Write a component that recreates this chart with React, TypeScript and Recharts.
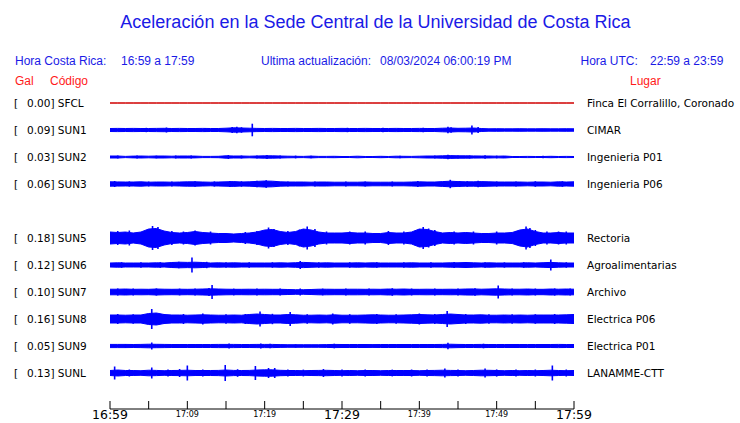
import { Area, ComposedChart, ErrorBar, Scatter, XAxis, YAxis } from 'recharts'

const WAVE_BLUE = '#0000ff'
const TEXT_BLUE = '#1a1ae6'
const TEXT_RED = '#ff1a1a'
const LABEL_FONT = '"DejaVu Sans", sans-serif'
const HEAD_FONT = '"Liberation Sans", Arial, sans-serif'

// stations, top to bottom (slot 4 is an empty row)
const codes = ['SFCL', 'SUN1', 'SUN2', 'SUN3', 'SUN5', 'SUN6', 'SUN7', 'SUN8', 'SUN9', 'SUNL']
const gal = [0.0, 0.09, 0.03, 0.06, 0.18, 0.12, 0.1, 0.16, 0.05, 0.13]
const places = [
  'Finca El Corralillo, Coronado',
  'CIMAR',
  'Ingenieria P01',
  'Ingenieria P06',
  'Rectoria',
  'Agroalimentarias',
  'Archivo',
  'Electrica P06',
  'Electrica P01',
  'LANAMME-CTT',
]
const slots = [0, 1, 2, 3, 5, 6, 7, 8, 9, 10]

// minutes after 16:59
const minutes = Array.from({ length: 61 }, (_, i) => i)
const timeTicks = [0, 5, 10, 15, 20, 25, 30, 35, 40, 45, 50, 55, 60]
const timeLabels = ['16:59', '', '17:09', '', '17:19', '', '17:29', '', '17:39', '', '17:49', '', '17:59']
const bigLabels = ['16:59', '17:29', '17:59']

// half envelope of each trace, one value per minute (27 = one trace spacing)
const sfcl = [
  0, 0, 0, 0, 0, 0, 0, 0, 0, 0, 0, 0, 0, 0, 0, 0, 0, 0, 0, 0, 0, 0, 0, 0, 0, 0, 0, 0, 0, 0, 0,
  0, 0, 0, 0, 0, 0, 0, 0, 0, 0, 0, 0, 0, 0, 0, 0, 0, 0, 0, 0, 0, 0, 0, 0, 0, 0, 0, 0, 0, 0,
]
const sun1 = [
  1.5, 1.6, 1.5, 1.6, 1.5, 1.5, 1.6, 1.7, 1.5, 1.6, 1.5, 1.5, 1.6, 1.5, 1.5, 1.8, 2.2, 2, 1.8, 1.6,
  1.5, 1.6, 1.5, 1.5, 1.6, 1.5, 1.5, 1.6, 1.5, 1.5, 1.6, 1.5, 1.5, 1.6, 1.5, 1.5, 1.5, 1.6, 1.5, 1.5,
  1.6, 1.5, 1.5, 1.8, 2, 1.7, 1.8, 2, 1.5, 1.2, 1.3, 1.2, 1.2, 1.3, 1.2, 1.2, 1.3, 1.2, 1.2, 1.3, 1.2,
]
const sun2 = [
  1, 1, 0.6, 0.9, 1, 0.8, 1, 1, 0.8, 1, 1, 0.9, 0.6, 0.6, 0.7, 1.2, 1, 1, 0.8, 1,
  1.2, 1.2, 1, 0.8, 0.7, 0.6, 0.9, 0.6, 0.6, 0.7, 0.5, 0.5, 0.8, 0.5, 0.5, 0.7, 0.5, 0.8, 0.7, 0.6,
  0.8, 1, 1, 1.2, 1.4, 1.2, 1.2, 1.1, 1, 1, 0.8, 1, 0.5, 0.5, 0.6, 0.5, 0.5, 0.7, 0.5, 0.6, 0.5,
]
const sun3 = [
  2.2, 2.1, 2, 2, 2.2, 1.8, 2, 2, 1.8, 2, 2.2, 2.2, 2, 1.8, 2, 2.2, 2.4, 2, 2.2, 2.6,
  3, 2.8, 2.2, 2, 2, 2, 1.8, 2, 2, 1.8, 1.8, 1.8, 1.8, 2, 1.8, 1.8, 1.8, 1.8, 1.8, 2,
  2.2, 2, 2, 2.4, 2.8, 2.4, 2.2, 2.2, 2.4, 2.2, 2, 2, 2, 2, 1.8, 2, 2, 1.8, 2.2, 2, 2.2,
]
const sun5 = [
  6, 5.5, 6, 5, 6, 9, 9.5, 7, 5.5, 5, 5.5, 6.5, 5.5, 5, 4.5, 4.5, 4, 4.5, 5, 6,
  8, 8.5, 6.5, 5.5, 6.5, 9, 8, 6, 5, 5, 5, 5.5, 5, 5, 4.5, 4.5, 5.5, 5, 5, 6,
  9, 8.5, 6.5, 5, 5.5, 5, 5.5, 5, 4.5, 4.5, 5, 5, 5.5, 8, 9, 6.5, 5, 5, 5.5, 5, 5,
]
const sun6 = [
  2, 2.2, 2, 2, 2, 2, 2.2, 2, 2.5, 2.8, 2.6, 2.8, 2.5, 2, 2.2, 2, 2.2, 2, 2, 2,
  2, 2, 2.2, 2, 2.3, 2.6, 2.3, 2, 2.2, 2, 2, 2, 2.2, 2, 2.2, 2, 2, 2, 2, 2.2,
  2, 2, 2, 2, 2.2, 2.2, 2.5, 2.2, 2, 2.2, 2, 2, 2, 2, 2.2, 2, 2.3, 2.6, 2.2, 2, 2,
]
const sun7 = [
  2.8, 2.8, 3, 2.7, 2.8, 2.7, 3, 2.8, 2.7, 2.8, 2.7, 2.8, 3, 3.2, 3, 2.8, 2.7, 2.7, 2.8, 2.7,
  2.8, 2.7, 2.7, 2.5, 2.3, 2.3, 2.5, 2.8, 2.8, 2.7, 2.7, 2.8, 2.8, 2.7, 2.8, 2.7, 3, 2.8, 3, 2.7,
  2.7, 2.8, 2.7, 2.7, 2.8, 2.7, 3, 3.1, 2.8, 3, 3.2, 3, 2.8, 2.8, 3, 2.7, 2.7, 3, 2.8, 3, 2.8,
]
const sun8 = [
  4, 4, 3.8, 4, 4, 5.5, 6, 4.5, 4, 4, 3.8, 4, 4.2, 4, 3.8, 3.8, 4, 3.8, 4.5, 5,
  4.5, 4, 4, 4.5, 4.2, 3.8, 3.8, 4, 3.8, 4.2, 3.8, 3.8, 3.8, 4, 4.2, 4, 3.8, 3.8, 4, 4.2,
  4.5, 4.2, 4, 4.5, 5, 4.5, 4, 4, 4.2, 3.8, 3.8, 4, 3.8, 4, 3.8, 4, 4, 4, 4, 4.2, 4.5,
]
const sun9 = [
  1.6, 1.6, 1.6, 1.5, 1.6, 1.8, 1.7, 1.6, 1.5, 1.5, 1.5, 1.5, 1.5, 1.5, 1.6, 1.6, 1.6, 1.5, 1.5, 1.6,
  1.6, 1.6, 1.4, 1.3, 1.3, 1.3, 1.3, 1.3, 1.4, 1.6, 1.5, 1.5, 1.5, 1.5, 1.4, 1.5, 1.5, 1.5, 1.5, 1.5,
  1.5, 1.5, 1.5, 1.6, 1.8, 1.6, 1.5, 1.5, 1.6, 1.5, 1.5, 1.5, 1.5, 1.5, 1.5, 1.5, 1.5, 1.5, 1.6, 1.5, 1.5,
]
const sunl = [
  2.5, 3, 2.5, 2.5, 2.3, 2.8, 2.6, 2.3, 2.5, 2.6, 2.8, 2.5, 2.5, 2.5, 2.6, 3, 2.6, 2.5, 2.6, 3,
  3.2, 3.2, 2.7, 2.5, 2.5, 2.3, 2.5, 2.6, 2.7, 2.5, 2.3, 2.5, 2.3, 2.5, 2.5, 2.3, 2.5, 2.5, 2.5, 2.5,
  2.3, 2.5, 2.6, 2.8, 2.6, 2.5, 2.3, 2.5, 2.8, 2.7, 2.5, 2.3, 2.5, 2.3, 2.5, 2.3, 2.5, 2.8, 2.5, 2.3, 2.5,
]
const traces = [sfcl, sun1, sun2, sun3, sun5, sun6, sun7, sun8, sun9, sunl]

// spikes sticking out of each trace [minute, half amplitude]
const sfclSpikes: number[][] = []
const sun1Spikes = [
  [4.7, 2.2], [7.3, 2.5], [12.3, 2], [15.8, 3], [16.4, 3.2], [17, 2.8], [18.4, 6.3], [30.7, 2.2],
  [35.3, 2.2], [37.3, 2], [40.5, 2.2], [43.7, 3.3], [44.1, 2.8], [46.8, 4.5], [47.6, 3],
]
const sun2Spikes = [
  [1, 1.5], [3.5, 1.5], [6, 1.4], [8.5, 1.5], [10.5, 1.4], [15.3, 2], [17, 1.5], [19, 1.6], [20.3, 2],
  [22, 1.5], [24, 1.4], [26, 1.3], [37.5, 1.2], [42, 1.5], [43.7, 2.3], [45, 1.6], [46.5, 1.5],
  [48.5, 1.8], [50, 1.4], [56, 1.2],
]
const sun3Spikes = [
  [0.6, 3], [2.5, 2.6], [5, 2.5], [8, 2.6], [11, 2.8], [13.5, 2.6], [15.5, 3], [17, 2.8], [19, 3.2],
  [20.2, 3.8], [21.5, 3], [23, 2.6], [26.5, 2.5], [30.5, 2.5], [33, 2.5], [36.5, 2.5], [39.8, 3],
  [44, 4.2], [45.2, 3], [46.2, 2.8], [47.6, 3.2], [50, 2.6], [52.5, 2.6], [55, 2.8], [58.5, 2.8],
]
const sun5Spikes = [
  [1, 7], [2.5, 7.5], [5.5, 12], [6.2, 11], [8, 7], [9.5, 6.5], [11, 7.5], [13, 6.5], [17.5, 6],
  [19, 7], [20.5, 10.5], [21.2, 9], [23, 7], [24.5, 8.5], [25.5, 11.5], [26.5, 9], [28, 6.5],
  [31, 6.5], [33, 6.5], [36, 7], [38, 6.5], [39.5, 7.5], [40.5, 11], [41.2, 9.5], [42, 8],
  [44.5, 6.5], [47, 6.5], [50, 6.5], [52.5, 7], [53.8, 11.5], [54.3, 10], [55, 8], [56.5, 6.5],
  [58, 6.5], [59, 6.5],
]
const sun6Spikes = [
  [1.5, 2.8], [4, 2.7], [6.5, 2.8], [8.9, 3.2], [10.6, 7.5], [12.5, 3.2], [15, 2.8], [18, 2.7],
  [21, 2.8], [24.6, 4], [27, 2.7], [31, 2.8], [34.5, 2.8], [38, 2.7], [41.5, 2.8], [44.5, 3],
  [46, 3], [48.5, 2.8], [51, 2.7], [53.5, 2.8], [57, 5.5], [59, 2.8],
]
const sun7Spikes = [
  [1, 3.6], [3, 3.5], [6, 3.6], [9, 3.4], [11, 3.5], [12.8, 4], [13.2, 7], [16, 3.4], [19, 3.5],
  [22, 3.4], [24.6, 3.5], [27.5, 3.4], [30.5, 3.5], [33.5, 3.5], [36.5, 3.8], [39, 3.5], [42, 3.5],
  [45, 3.6], [47.2, 3.8], [50.2, 6.5], [52, 3.5], [55, 3.5], [57.5, 3.6], [59.5, 3.5],
]
const sun8Spikes = [
  [1, 5], [3, 4.8], [5.4, 10], [7, 5], [9.5, 5], [12, 5.5], [15, 4.8], [17.5, 5], [19.4, 7.5],
  [21, 5.2], [23.3, 7], [25.5, 4.8], [28.8, 5.5], [31, 4.8], [34.5, 5], [37, 4.8], [40, 5.5],
  [42, 5], [43.6, 8], [46, 5], [49, 4.8], [52, 4.8], [55, 4.8], [57.5, 5], [59.8, 4.5],
]
const sun9Spikes = [
  [2, 2], [5.4, 3.5], [9, 1.9], [15.4, 2.5], [19.5, 2.4], [20.7, 2.3], [24, 1.8], [29, 2.3],
  [33, 1.9], [38, 1.9], [43.7, 3.3], [48.3, 2.3], [52, 2], [56, 1.9], [58.5, 2],
]
const sunlSpikes = [
  [0.6, 6.5], [2.5, 3.5], [5.4, 5.5], [7.5, 3.4], [9, 4], [10, 7.5], [12, 3.5], [14.9, 8],
  [16.5, 3.8], [18.8, 7], [20.5, 5], [21.3, 5], [23, 3.5], [25, 3.4], [27.6, 4], [30, 3.5],
  [33, 3.5], [36.5, 3.4], [39, 3.5], [41, 3.6], [43.3, 4.5], [45, 3.5], [48.5, 4.5], [50, 3.6],
  [52.5, 3.4], [55, 3.5], [57.2, 7.5], [59, 3.5],
]
const spikes = [sfclSpikes, sun1Spikes, sun2Spikes, sun3Spikes, sun5Spikes, sun6Spikes, sun7Spikes, sun8Spikes, sun9Spikes, sunlSpikes]

const SPACING = 27

const data = minutes.map((t, i) => {
  const row: Record<string, number | number[]> = { t }
  codes.forEach((c, k) => {
    const a = traces[k][i] / SPACING
    row[c] = [slots[k] - a, slots[k] + a]
  })
  return row
})

const spikeData = spikes.map((list, k) => list.map(([t, a]) => ({ t, y: slots[k], err: a / SPACING })))

function CodeTick({ y, payload }: any) {
  const k = slots.indexOf(payload.value)
  if (k < 0) return null
  return (
    <g fontFamily={LABEL_FONT} fontSize={10.5} fill="#000">
      <text x={14} y={y + 4}>[</text>
      <text x={27} y={y + 4}>{`${gal[k].toFixed(2)}] ${codes[k]}`}</text>
    </g>
  )
}

function PlaceTick({ y, payload }: any) {
  const k = slots.indexOf(payload.value)
  if (k < 0) return null
  return (
    <text x={587} y={y + 4} fontFamily={LABEL_FONT} fontSize={10.5} fill="#000">
      {places[k]}
    </text>
  )
}

function TimeTick({ x, y, payload }: any) {
  const label = timeLabels[timeTicks.indexOf(payload.value)]
  const big = bigLabels.includes(label)
  return (
    <g>
      <line x1={x} x2={x} y1={y - 8} y2={y} stroke="#000" />
      {label && (
        <text
          x={x}
          y={y + (big ? 10 : 8)}
          textAnchor="middle"
          fontFamily={LABEL_FONT}
          fontSize={big ? 12.5 : 8}
          fill="#000"
        >
          {label}
        </text>
      )}
    </g>
  )
}

const noDot = () => <g />

export default function App() {
  return (
    <div style={{ position: 'absolute', left: 0, top: 0, width: 740, height: 423, background: '#fff' }}>
      <ComposedChart width={740} height={423} data={data} margin={{ top: 89.5, right: 0, bottom: 0, left: 0 }}>
        <XAxis
          dataKey="t"
          type="number"
          domain={[0, 60]}
          ticks={timeTicks}
          interval={0}
          height={14}
          tickSize={0}
          tickMargin={0}
          tickLine={false}
          axisLine={{ stroke: '#000' }}
          tick={<TimeTick />}
        />
        <YAxis
          yAxisId="left"
          type="number"
          domain={[-0.5, 11.333]}
          reversed
          allowDataOverflow
          ticks={slots}
          interval={0}
          width={110}
          axisLine={false}
          tickLine={false}
          tick={<CodeTick />}
        />
        <YAxis
          yAxisId="right"
          orientation="right"
          type="number"
          domain={[-0.5, 11.333]}
          reversed
          allowDataOverflow
          ticks={slots}
          interval={0}
          width={166}
          axisLine={false}
          tickLine={false}
          tick={<PlaceTick />}
        />
        {codes.map((c, k) => (
          <Area
            key={c}
            yAxisId="left"
            type="linear"
            dataKey={c}
            stroke={k === 0 ? '#d00000' : WAVE_BLUE}
            strokeWidth={1}
            fill={WAVE_BLUE}
            fillOpacity={k === 0 ? 0 : 1}
            dot={false}
            activeDot={false}
            isAnimationActive={false}
          />
        ))}
        {codes.map((c, k) =>
          spikeData[k].length ? (
            <Scatter
              key={`${c}-spikes`}
              yAxisId="left"
              data={spikeData[k]}
              dataKey="y"
              shape={noDot}
              isAnimationActive={false}
            >
              <ErrorBar dataKey="err" direction="y" width={0} stroke={WAVE_BLUE} strokeWidth={1.6} />
            </Scatter>
          ) : null
        )}
      </ComposedChart>
      <svg width={740} height={100} style={{ position: 'absolute', left: 0, top: 0, pointerEvents: 'none' }}>
        <g fontFamily={HEAD_FONT}>
          <text x={375.5} y={28} textAnchor="middle" fontSize={18} fill={TEXT_BLUE}>
            Aceleración en la Sede Central de la Universidad de Costa Rica
          </text>
          <g fontSize={12} fill={TEXT_BLUE}>
            <text x={15} y={65}>Hora Costa Rica:</text>
            <text x={121} y={65}>16:59 a 17:59</text>
            <text x={261} y={65}>Ultima actualización:</text>
            <text x={380} y={65}>08/03/2024 06:00:19 PM</text>
            <text x={580.5} y={65}>Hora UTC:</text>
            <text x={650} y={65}>22:59 a 23:59</text>
          </g>
          <g fontSize={12} fill={TEXT_RED}>
            <text x={15} y={85}>Gal</text>
            <text x={50} y={85}>Código</text>
            <text x={630} y={85}>Lugar</text>
          </g>
        </g>
      </svg>
    </div>
  )
}
